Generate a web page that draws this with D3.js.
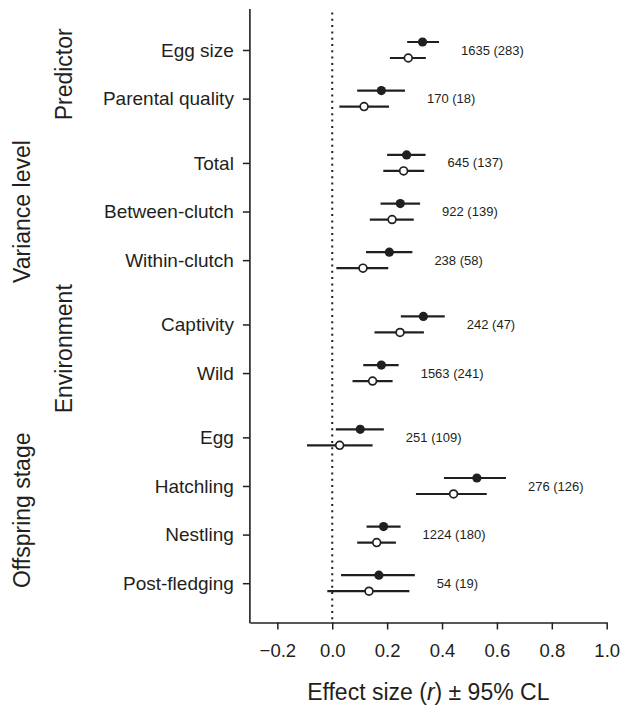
<!DOCTYPE html>
<html>
<head>
<meta charset="utf-8">
<script src="https://cdn.jsdelivr.net/npm/d3@7"></script>
<style>
  html, body { margin: 0; padding: 0; background: #fff; }
  svg { display: block; }
  text { font-family: "Liberation Sans", Arial, Helvetica, sans-serif; fill: #231f20; }
</style>
</head>
<body>
<svg id="chart" width="622" height="705"></svg>
<script>
// ---- data ----
const categories = ["Egg size", "Parental quality", "Total", "Between-clutch", "Within-clutch",
                    "Captivity", "Wild", "Egg", "Hatchling", "Nestling", "Post-fledging"];
const groupOf = ["Predictor", "Predictor", "Variance level", "Variance level", "Variance level",
                 "Environment", "Environment", "Offspring stage", "Offspring stage", "Offspring stage", "Offspring stage"];
const groupNames = ["Predictor", "Variance level", "Environment", "Offspring stage"];
// filled circles
const filledMean = [0.329, 0.179, 0.271, 0.248, 0.208, 0.332, 0.179, 0.102, 0.527, 0.187, 0.170];
const filledLo   = [0.273, 0.091, 0.200, 0.176, 0.123, 0.250, 0.113, 0.013, 0.407, 0.125, 0.032];
const filledHi   = [0.389, 0.265, 0.340, 0.320, 0.292, 0.410, 0.242, 0.188, 0.633, 0.249, 0.301];
// open circles
const openMean = [0.277, 0.116, 0.260, 0.218, 0.112, 0.247, 0.147, 0.027, 0.442, 0.162, 0.134];
const openLo   = [0.210, 0.026, 0.186, 0.137, 0.015, 0.154, 0.074, -0.092, 0.305, 0.091, -0.018];
const openHi   = [0.341, 0.207, 0.335, 0.297, 0.204, 0.334, 0.220, 0.147, 0.563, 0.232, 0.281];
// sample sizes: effect sizes (studies)
const nEffects = [1635, 170, 645, 922, 238, 242, 1563, 251, 276, 1224, 54];
const nStudies = [283, 18, 137, 139, 58, 47, 241, 109, 126, 180, 19];
const xTicks = [-0.2, 0.0, 0.2, 0.4, 0.6, 0.8, 1.0];
const xDomain = [-0.3, 1.0];

(function () {
// ---- layout ----
const svg = d3.select("#chart");
const ink = "#231f20";
const pLeft = 249.9, pRight = 606.7, pTop = 9, pBottom = 622.5;
const groupGap = 1.323; // slot units between groups

// slot positions (extra space between groups)
const slots = [];
let s = 0;
categories.forEach((c, i) => {
  if (i > 0) s += (groupOf[i] !== groupOf[i - 1]) ? groupGap : 1;
  slots.push(s);
});

const x = d3.scaleLinear().domain(xDomain).range([pLeft, pRight]);
const y = d3.scaleLinear().domain([0, slots[slots.length - 1]]).range([50, 583.2]);

const rows = categories.map((c, i) => ({
  cat: c, slot: slots[i], group: groupOf[i],
  fm: filledMean[i], fl: filledLo[i], fh: filledHi[i],
  om: openMean[i], ol: openLo[i], oh: openHi[i],
  label: `${nEffects[i]} (${nStudies[i]})`
}));

// zero reference line (dotted)
svg.append("line")
  .attr("x1", x(0)).attr("x2", x(0))
  .attr("y1", 12.5).attr("y2", pBottom)
  .attr("stroke", ink).attr("stroke-width", 2)
  .attr("stroke-dasharray", "2 4.3");

// y axis
const yAxis = d3.axisLeft(y)
  .tickValues(slots)
  .tickFormat((d, i) => categories[i])
  .tickSize(7).tickPadding(9).tickSizeOuter(0);
const gy = svg.append("g").attr("transform", `translate(${pLeft},0)`).call(yAxis);
gy.select(".domain").remove();
gy.selectAll(".tick line").attr("stroke", ink).attr("stroke-width", 1.5);
gy.selectAll(".tick text").style("font-size", "19px").attr("fill", ink)
  .style("font-family", '"Liberation Sans", Arial, Helvetica, sans-serif');
svg.append("line")
  .attr("x1", pLeft).attr("x2", pLeft).attr("y1", pTop).attr("y2", pBottom + 0.75)
  .attr("stroke", ink).attr("stroke-width", 1.6);

// x axis
const xAxis = d3.axisBottom(x)
  .tickValues(xTicks)
  .tickFormat(d3.format(".1f"))
  .tickSize(7).tickPadding(14).tickSizeOuter(0);
const gx = svg.append("g").attr("transform", `translate(0,${pBottom})`).call(xAxis);
gx.select(".domain").attr("stroke", ink).attr("stroke-width", 1.6);
gx.selectAll(".tick line").attr("stroke", ink).attr("stroke-width", 1.5);
gx.selectAll(".tick text").style("font-size", "18.5px").attr("fill", ink)
  .style("font-family", '"Liberation Sans", Arial, Helvetica, sans-serif');

// x axis title
const title = svg.append("text")
  .attr("x", (pLeft + pRight) / 2).attr("y", 700)
  .attr("text-anchor", "middle").style("font-size", "23px");
title.append("tspan").text("Effect size (");
title.append("tspan").style("font-style", "italic").text("r");
title.append("tspan").text(") \u00b1 95% CL");

// group labels (rotated)
groupNames.forEach((g, gi) => {
  const ys = rows.filter(r => r.group === g).map(r => y(r.slot));
  const cy = (d3.min(ys) + d3.max(ys)) / 2;
  const bx = (gi % 2 === 0) ? 72 : 30;
  svg.append("text")
    .attr("transform", `translate(${bx},${cy}) rotate(-90)`)
    .attr("text-anchor", "middle")
    .style("font-size", "23px")
    .text(g);
});

const off = 8;
const series = [
  { key: "f", m: "fm", lo: "fl", hi: "fh", dy: -off, fill: ink },
  { key: "o", m: "om", lo: "ol", hi: "oh", dy: off, fill: "#fff" }
];

series.forEach(sr => {
  const g = svg.append("g");
  g.selectAll("line").data(rows).join("line")
    .attr("x1", d => x(d[sr.lo])).attr("x2", d => x(d[sr.hi]))
    .attr("y1", d => y(d.slot) + sr.dy).attr("y2", d => y(d.slot) + sr.dy)
    .attr("stroke", ink).attr("stroke-width", 2.2);
  g.selectAll("circle").data(rows).join("circle")
    .attr("cx", d => x(d[sr.m])).attr("cy", d => y(d.slot) + sr.dy)
    .attr("r", sr.key === "f" ? 4.6 : 3.9)
    .attr("fill", sr.fill)
    .attr("stroke", ink).attr("stroke-width", sr.key === "f" ? 0 : 1.7);
});

// sample size labels
svg.append("g").selectAll("text").data(rows).join("text")
  .attr("x", d => x(Math.max(d.fh, d.oh)) + 22)
  .attr("y", d => y(d.slot))
  .attr("dy", "0.35em")
  .style("font-size", "13px")
  .text(d => d.label);
})();
</script>
</body>
</html>
